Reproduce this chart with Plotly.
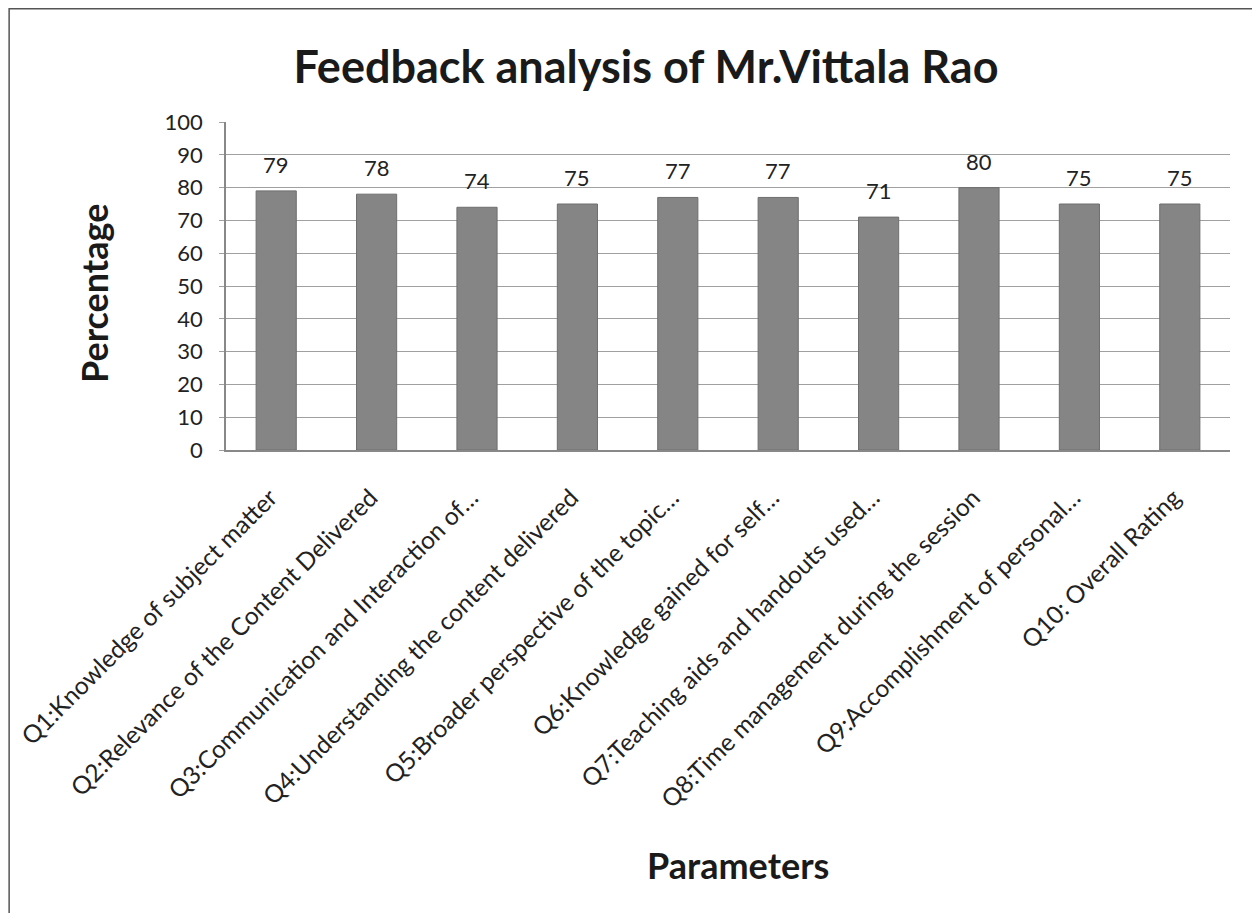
import plotly.graph_objects as go

categories = [
    "Q1:Knowledge of subject matter",
    "Q2:Relevance of the Content Delivered",
    "Q3:Communication and Interaction of…",
    "Q4:Understanding the content delivered",
    "Q5:Broader perspective of the topic…",
    "Q6:Knowledge gained for self…",
    "Q7:Teaching aids and handouts used…",
    "Q8:Time management during the session",
    "Q9:Accomplishment of personal…",
    "Q10: Overall Rating",
]
values = [79, 78, 74, 75, 77, 77, 71, 80, 75, 75]
y_ticks = [0, 10, 20, 30, 40, 50, 60, 70, 80, 90, 100]

FONT = "Lato, Open Sans, sans-serif"

fig = go.Figure()
fig.add_trace(go.Bar(
    x=categories, y=values,
    marker=dict(color="#858585", line=dict(color="#6e6e6e", width=1)),
    hoverinfo="x+y",
))

for c, v in zip(categories, values):
    fig.add_annotation(x=c, y=v, text=str(v), showarrow=False,
                       yanchor="bottom", yshift=11,
                       font=dict(family=FONT, size=22, color="#222222"))

fig.update_layout(
    width=1260, height=913,
    paper_bgcolor="white", plot_bgcolor="white",
    margin=dict(l=218, r=38, t=114, b=471, autoexpand=False),
    bargap=0.6,
    showlegend=False,
    font=dict(family=FONT, color="#222222"),
    title=dict(text="<b>Feedback analysis of Mr.Vittala Rao</b>",
               x=(638 - 218) / 1004, xref="paper", xanchor="center",
               y=(913 - 59) / 913, yanchor="middle",
               font=dict(family=FONT, size=45, color="#1a1a1a")),
    shapes=[dict(type="rect", xref="paper", yref="paper",
                 x0=-0.216, x1=1.025, y0=-1.47, y1=1.345,
                 line=dict(color="#555555", width=1.5))],
)

fig.update_xaxes(
    tickangle=-45,
    tickfont=dict(family=FONT, size=24.5, color="#222222"),
    ticklabelstandoff=22,
    ticklabelshift=-6,
    showline=True, linecolor="#888888", linewidth=1.5,
    showgrid=False,
    ticks="",
    automargin=False,
    title=None,
)
fig.add_annotation(text="<b>Parameters</b>", xref="paper", yref="paper",
                   x=(730 - 218) / 1004, y=(442 - 857) / 328,
                   xanchor="center", yanchor="middle", showarrow=False,
                   font=dict(family=FONT, size=36, color="#1a1a1a"))
fig.add_annotation(text="<b>Percentage</b>", xref="paper", yref="paper",
                   x=(86 - 218) / 1004, y=(442 - 286) / 328,
                   xanchor="center", yanchor="middle", showarrow=False,
                   textangle=-90,
                   font=dict(family=FONT, size=36, color="#1a1a1a"))
fig.update_yaxes(
    range=[0, 100], tickvals=y_ticks,
    tickfont=dict(family=FONT, size=22, color="#222222"),
    ticklabelstandoff=12,
    showgrid=True, gridcolor="#a0a0a0", gridwidth=1,
    showline=True, linecolor="#888888", linewidth=1.5,
    ticks="outside", ticklen=5, tickcolor="#a0a0a0",
    zeroline=False,
    automargin=False,
    title=None,
)

fig.write_html("out.html")
